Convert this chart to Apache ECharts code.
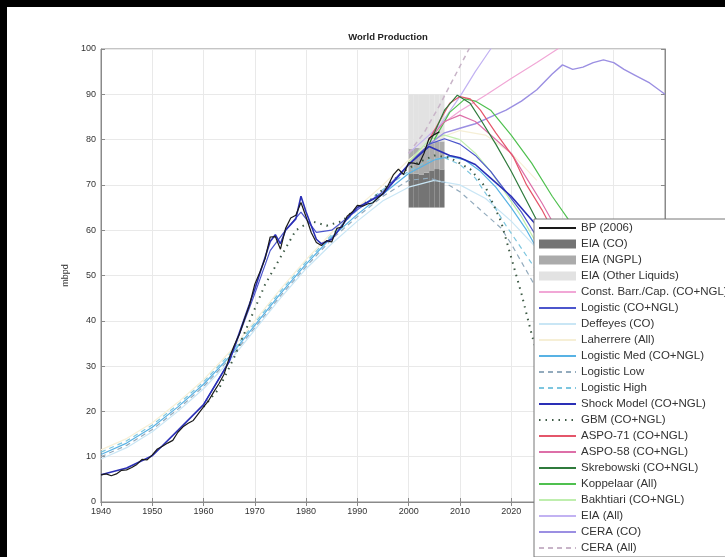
<!DOCTYPE html>
<html><head><meta charset="utf-8">
<script src="https://cdn.jsdelivr.net/npm/echarts@6/dist/echarts.min.js"></script>
<style>
html,body{margin:0;padding:0;background:#000;width:725px;height:557px;overflow:hidden}
#c{position:absolute;left:7px;top:7px;width:718px;height:550px;background:#fff}
</style></head><body><div id="c"></div>
<script>
// ---- data (year, mbpd) ----
const bp2006 = [[1940,6.0],[1941,6.2],[1942,5.8],[1943,6.2],[1944,7.0],[1945,7.1],[1946,7.6],[1947,8.3],[1948,9.4],[1949,9.3],[1950,10.4],[1951,11.7],[1952,12.3],[1953,13.0],[1954,13.6],[1955,15.4],[1956,16.6],[1957,17.4],[1958,18.0],[1959,19.5],[1960,21.0],[1961,22.4],[1962,24.3],[1963,26.1],[1964,28.2],[1965,31.8],[1966,34.6],[1967,37.1],[1968,40.4],[1969,43.6],[1970,48.1],[1971,50.8],[1972,53.7],[1973,58.5],[1974,58.6],[1975,55.8],[1976,60.4],[1977,62.7],[1978,63.3],[1979,66.1],[1980,62.9],[1981,59.5],[1982,57.3],[1983,56.6],[1984,57.7],[1985,57.4],[1986,60.4],[1987,60.7],[1988,63.1],[1989,64.0],[1990,65.5],[1991,65.3],[1992,65.8],[1993,66.0],[1994,67.1],[1995,68.1],[1996,69.9],[1997,72.2],[1998,73.5],[1999,72.3],[2000,74.9],[2001,74.8],[2002,74.5],[2003,77.0],[2004,80.3],[2005,81.1],[2006,81.7]];
const eiaYears   = [2000,2001,2002,2003,2004,2005,2006];
const eiaBase    = [65,65,65,65,65,65,65];
const eiaCO      = [7.4,7.5,7.3,7.7,8.2,8.5,8.4];
const eiaNGPL    = [5.6,5.7,5.8,5.9,6.0,6.1,6.2];
const eiaOther   = [12.0,11.8,11.9,11.4,10.8,10.4,10.4];
const constBarr  = [[2004,81],[2006,83],[2010,86.3],[2015,89.8],[2020,93.5],[2025,97],[2030,100.7]];
const logisticCN = [[1960,21.5],[1965,31],[1970,46],[1973,55.5],[1976,60],[1979,64],[1982,59.5],[1985,60],[1990,64.5],[1995,68.5],[2000,74.5],[2004,79],[2007,80.2],[2010,79],[2013,76.5],[2016,73],[2019,68.5],[2022,64],[2025,58.5]];
const deffeyes   = [[1940,9.5],[1945,12],[1950,15.5],[1955,20],[1960,25],[1965,31],[1970,38],[1975,45],[1980,51.5],[1985,57],[1990,62],[1995,66.5],[2000,69.5],[2005,71],[2010,70],[2015,67],[2020,62],[2025,56]];
const laherrere  = [[1940,11.5],[1945,14],[1950,17.5],[1955,22],[1960,27],[1965,33],[1970,40],[1975,47],[1980,53.5],[1985,59.5],[1990,65],[1995,70],[2000,75.5],[2005,80],[2010,82],[2015,81],[2020,77],[2025,71]];
const logMed     = [[1940,10.5],[1945,13],[1950,16.5],[1955,21],[1960,26],[1965,32],[1970,39],[1975,46],[1980,52.5],[1985,58.5],[1990,63.5],[1995,68],[2000,72.5],[2005,75.5],[2008,76.3],[2011,75.5],[2014,73],[2017,69.5],[2020,65],[2023,60],[2026,54]];
const logLow     = [[1940,10],[1945,12.5],[1950,16],[1955,20.5],[1960,25.5],[1965,31.5],[1970,38.5],[1975,45.5],[1980,52],[1985,58],[1990,63],[1995,67.5],[2000,71],[2004,71.5],[2007,70.5],[2010,68.5],[2013.5,65],[2016,62.5],[2018,60.5],[2020,57],[2022,53],[2025,47]];
const logHigh    = [[1940,11],[1945,13.5],[1950,17],[1955,21.5],[1960,26.5],[1965,32.5],[1970,39.5],[1975,46.5],[1980,53],[1985,59],[1990,64.5],[1995,69],[2000,73],[2004,75.5],[2007,76],[2010,74.5],[2013,71.5],[2016,66.5],[2019,61],[2022,56],[2025,51]];
const shock      = [[1940,6],[1945,7.5],[1950,10.2],[1955,15.8],[1960,21.5],[1965,31],[1970,47],[1973,57.5],[1974,59],[1975,57],[1976,60],[1978,62.5],[1979,67.5],[1980,64],[1982,58],[1983,57],[1985,58],[1988,62.5],[1990,65],[1995,68],[2000,74.5],[2004,78.5],[2006,77.5],[2008,76.5],[2010,76],[2013,74.5],[2016,71.5],[2020,67.5],[2025,61]];
const gbm        = [[1960,21],[1963,25],[1966,32],[1969,40],[1972,48],[1975,54],[1978,60],[1981,62],[1984,61],[1987,62],[1990,65],[1993,67],[1996,70],[1999,73],[2002,75],[2005,76.5],[2008,76],[2012,73.5],[2015,69.5],[2018,62],[2020,54],[2022,46],[2024,37],[2025,33]];
const aspo71     = [[2004,80],[2006,84],[2008,88],[2010,89.5],[2012,89],[2014,86.5],[2017,81.5],[2020.5,76],[2023,70],[2026,64.5],[2029,58]];
const aspo58     = [[2004,80],[2007,84],[2010,85.4],[2013,84],[2016,81],[2020,77],[2023,71.5],[2026,66],[2029,60]];
const skrebowski = [[2004,79],[2007,86.5],[2009.5,89.8],[2012,88],[2014,84.5],[2017,79],[2020,73],[2023,66.5],[2026,60]];
const koppelaar  = [[2005,80],[2008,86],[2011,89],[2013,88.5],[2016,86.5],[2020,81],[2024,74.8],[2028,67.5],[2032,61]];
const bakhtiari  = [[2000,75],[2004,80],[2007,81],[2010,80],[2013,77],[2016,73],[2019,68],[2022,63],[2025,57]];
const eiaAll     = [[2000,77],[2003,80],[2006,83],[2010,89.5],[2013,95],[2016,100],[2017,101.5]];
const ceraCO     = [[2004,79],[2007,81.5],[2010,82.5],[2013,83.5],[2016,85],[2019,86.5],[2022,88.5],[2025,91],[2028,94.5],[2030,96.5],[2032,95.5],[2034,96],[2036,97],[2038,97.6],[2040,97],[2042,95.5],[2044,94.3],[2047,92.5],[2050,90]];
const ceraAll    = [[2000,77],[2003,81.5],[2006,87.5],[2009,94],[2012,100.5]];
const xTicks = [1940,1950,1960,1970,1980,1990,2000,2010,2020,2030,2040,2050];
const yTicks = [0,10,20,30,40,50,60,70,80,90,100];

const chart = echarts.init(document.getElementById('c'));
const FONT = 'Liberation Sans, Arial, sans-serif';
function line(name, data, color, opts){
  opts = opts || {};
  return {name, type:'line', data, symbol:'none', showSymbol:false, smooth:false, clip:true,
    lineStyle:{color, width:opts.w||1.2, type:opts.type||'solid'}, itemStyle:{color}, z:opts.z||3, animation:false};
}
// stacked EIA columns: [x0, x1, y0, y1] built from the arrays above
function eiaRects(layer){
  return eiaYears.map((y,i)=>{
    let lo = eiaBase[i];
    const parts = [eiaCO[i], eiaNGPL[i], eiaOther[i]];
    for (let k=0;k<layer;k++) lo += parts[k];
    return [y, y+1, lo, lo+parts[layer]];
  });
}
function rectSeries(name, layer, color){
  return {name, type:'custom', data: eiaRects(layer), encode:{x:[0,1], y:[2,3]}, itemStyle:{color}, z:1,
    animation:false, clip:true,
    renderItem:(params, api)=>{
      const p0 = api.coord([api.value(0), api.value(3)]);
      const p1 = api.coord([api.value(1), api.value(2)]);
      return {type:'rect', shape:{x:p0[0], y:p0[1], width:p1[0]-p0[0], height:p1[1]-p0[1]}, style:{fill:color}};
    }};
}
const series = [
  rectSeries('EIA (CO)', 0, '#747474'),
  rectSeries('EIA (NGPL)', 1, '#ababab'),
  rectSeries('EIA (Other Liquids)', 2, '#e2e2e2'),
  line('Laherrere (All)', laherrere, '#f6efd6'),
  line('Deffeyes (CO)', deffeyes, '#c9e6f5'),
  line('Logistic Low', logLow, '#93abbd', {type:[5,4]}),
  line('Logistic High', logHigh, '#7dc6df', {type:[5,4]}),
  line('Logistic Med (CO+NGL)', logMed, '#58b2e4'),
  line('Bakhtiari (CO+NGL)', bakhtiari, '#bfeeae'),
  line('Const. Barr./Cap. (CO+NGL)', constBarr, '#f1a7d6'),
  line('EIA (All)', eiaAll, '#c2b2f2'),
  line('CERA (All)', ceraAll, '#c8b4c8', {type:[5,4], w:1.5}),
  line('CERA (CO)', ceraCO, '#9b8fe2', {w:1.4}),
  line('Koppelaar (All)', koppelaar, '#4fc04f'),
  line('ASPO-58 (CO+NGL)', aspo58, '#dd6fa8'),
  line('ASPO-71 (CO+NGL)', aspo71, '#e4566a'),
  line('Skrebowski (CO+NGL)', skrebowski, '#2f7a3c'),
  line('GBM (CO+NGL)', gbm, '#3d5a45', {type:[1.5,5], w:2}),
  line('Logistic (CO+NGL)', logisticCN, '#4c56cc'),
  line('Shock Model (CO+NGL)', shock, '#2a2fb6', {w:1.6}),
  line('BP (2006)', bp2006, '#1a1a1a', {w:1.2, z:4})
];
const legendOrder = ['BP (2006)','EIA (CO)','EIA (NGPL)','EIA (Other Liquids)','Const. Barr./Cap. (CO+NGL)','Logistic (CO+NGL)','Deffeyes (CO)','Laherrere (All)','Logistic Med (CO+NGL)','Logistic Low','Logistic High','Shock Model (CO+NGL)','GBM (CO+NGL)','ASPO-71 (CO+NGL)','ASPO-58 (CO+NGL)','Skrebowski (CO+NGL)','Koppelaar (All)','Bakhtiari (CO+NGL)','EIA (All)','CERA (CO)','CERA (All)'];
const rectNames = ['EIA (CO)','EIA (NGPL)','EIA (Other Liquids)'];
const legendData = legendOrder.map(n => rectNames.includes(n) ? {name:n, icon:'rect'} : {name:n, itemStyle:{opacity:0}});
const axisFont = {fontFamily:FONT, fontSize:9, color:'#333'};
chart.setOption({
  backgroundColor:'#fff',
  animation:false,
  title:{text:'World Production', left:376, top:20, textAlign:'center',
    textStyle:{fontFamily:FONT, fontSize:9.5, fontWeight:'bold', color:'#222'}},
  grid:{left:94, right:60, top:42, bottom:55, show:true, borderColor:'#8a8a8a', borderWidth:1},
  xAxis:[{type:'value', min:1940, max:2050, interval:10, position:'bottom',
      axisLine:{show:true, lineStyle:{color:'#8a8a8a'}}, axisTick:{inside:true, length:4, lineStyle:{color:'#8a8a8a'}},
      axisLabel:Object.assign({margin:5, formatter:v=>xTicks.includes(v)?String(v):''}, axisFont),
      splitLine:{show:true, lineStyle:{color:'#e9e9e9', width:1}}},
    {type:'value', min:1940, max:2050, interval:10, position:'top',
      axisLine:{show:true, lineStyle:{color:'#8a8a8a'}}, axisTick:{inside:true, length:4, lineStyle:{color:'#8a8a8a'}},
      axisLabel:{show:false}, splitLine:{show:false}}],
  yAxis:[{type:'value', min:0, max:100, interval:10, position:'left',
      name:'mbpd', nameLocation:'middle', nameGap:30, nameRotate:90,
      nameTextStyle:{fontFamily:FONT, fontSize:9, color:'#333'},
      axisLine:{show:true, lineStyle:{color:'#8a8a8a'}}, axisTick:{inside:true, length:4, lineStyle:{color:'#8a8a8a'}},
      axisLabel:Object.assign({margin:5, formatter:v=>yTicks.includes(v)?String(v):''}, axisFont),
      splitLine:{show:true, lineStyle:{color:'#e9e9e9', width:1}}},
    {type:'value', min:0, max:100, interval:10, position:'right',
      axisLine:{show:true, lineStyle:{color:'#8a8a8a'}}, axisTick:{inside:true, length:4, lineStyle:{color:'#8a8a8a'}},
      axisLabel:{show:false}, splitLine:{show:false}}],
  legend:{data:legendData, orient:'vertical', left:527, top:212, height:360, backgroundColor:'#fff',
    borderColor:'#777', borderWidth:1, padding:[3,4,3,4], itemWidth:37, itemHeight:9, itemGap:4,
    textStyle:{fontFamily:FONT, fontSize:11.5, color:'#333', lineHeight:12},
    selectedMode:false, z:10},
  series
});
</script></body></html>
